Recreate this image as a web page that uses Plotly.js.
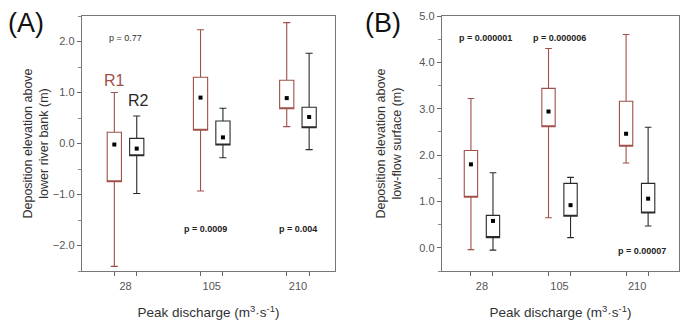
<!DOCTYPE html>
<html>
<head>
<meta charset="utf-8">
<script src="https://cdn.plot.ly/plotly-3.0.1.min.js"></script>
<style>html,body{margin:0;padding:0;background:#fff}#chart{width:683px;height:322px}</style>
</head>
<body>
<div id="chart"></div>
<script>
// ---- Data ----
const categories = ['28', '105', '210'];

// Panel A: deposition elevation above lower river bank (m)
const aR1_upper = [1.00, 2.23, 2.37];
const aR1_q3    = [0.22, 1.30, 1.24];
const aR1_q1    = [-0.75, 0.26, 0.68];
const aR1_lower = [-2.41, -0.93, 0.33];
const aR1_mean  = [-0.02, 0.90, 0.89];

const aR2_upper = [0.54, 0.69, 1.77];
const aR2_q3    = [0.10, 0.44, 0.71];
const aR2_q1    = [-0.24, -0.03, 0.31];
const aR2_lower = [-0.98, -0.28, -0.12];
const aR2_mean  = [-0.10, 0.12, 0.52];

// Panel B: deposition elevation above low-flow surface (m)
const bR1_upper = [3.22, 4.30, 4.60];
const bR1_q3    = [2.10, 3.44, 3.16];
const bR1_q1    = [1.09, 2.61, 2.19];
const bR1_lower = [-0.04, 0.65, 1.83];
const bR1_mean  = [1.80, 2.94, 2.46];

const bR2_upper = [1.62, 1.52, 2.60];
const bR2_q3    = [0.70, 1.39, 1.39];
const bR2_q1    = [0.22, 0.68, 0.75];
const bR2_lower = [-0.05, 0.22, 0.47];
const bR2_mean  = [0.58, 0.92, 1.06];

const pTextsA = ['p = 0.77', 'p = 0.0009', 'p = 0.004'];
const pTextsB = ['p = 0.000001', 'p = 0.000006', 'p = 0.00007'];

// ---- Styling ----
const R1COLOR = '#a0504a';
const R2COLOR = '#2a2a2a';
const FONT = 'Liberation Sans, Arial, sans-serif';

const idx = categories.map((c, i) => i);

function boxTrace(pos, q1, q3, lo, hi, color, width, xa, ya, name) {
  return {
    type: 'box', name: name, x: pos,
    q1: q1, median: q1, q3: q3, lowerfence: lo, upperfence: hi,
    width: width, whiskerwidth: 0.5, boxpoints: false,
    fillcolor: 'white', line: {color: color, width: 1.1},
    xaxis: xa, yaxis: ya, hoverinfo: 'skip', showlegend: false
  };
}
function meanTrace(pos, mean, xa, ya) {
  return {
    type: 'scatter', mode: 'markers', x: pos, y: mean,
    marker: {symbol: 'square', size: 4, color: '#000'},
    xaxis: xa, yaxis: ya, hoverinfo: 'skip', showlegend: false
  };
}

const offA = 0.13, wA = 0.165;
const offB = 0.142, wB = 0.172;
const aR1x = idx.map(i => i - offA), aR2x = idx.map(i => i + offA);
const bR1x = idx.map(i => i - offB), bR2x = idx.map(i => i + offB);

const data = [
  boxTrace(aR1x, aR1_q1, aR1_q3, aR1_lower, aR1_upper, R1COLOR, wA, 'x', 'y', 'R1'),
  boxTrace(aR2x, aR2_q1, aR2_q3, aR2_lower, aR2_upper, R2COLOR, wA, 'x', 'y', 'R2'),
  meanTrace(aR1x, aR1_mean, 'x', 'y'),
  meanTrace(aR2x, aR2_mean, 'x', 'y'),
  boxTrace(bR1x, bR1_q1, bR1_q3, bR1_lower, bR1_upper, R1COLOR, wB, 'x2', 'y2', 'R1'),
  boxTrace(bR2x, bR2_q1, bR2_q3, bR2_lower, bR2_upper, R2COLOR, wB, 'x2', 'y2', 'R2'),
  meanTrace(bR1x, bR1_mean, 'x2', 'y2'),
  meanTrace(bR2x, bR2_mean, 'x2', 'y2')
];

const tickFont = {family: FONT, size: 11, color: '#555'};
const titleFont = {family: FONT, size: 12.5, color: '#333'};

function xAxis(domain, range, boxPos) {
  return {
    domain: domain, range: range, type: 'linear',
    tickmode: 'array', tickvals: idx, ticktext: categories,
    ticks: 'outside', ticklen: 4, tickcolor: 'rgba(0,0,0,0)',
    minor: {tickmode: 'array', tickvals: boxPos, ticks: 'outside', ticklen: 4, tickcolor: '#666', showgrid: false},
    tickfont: tickFont, showgrid: false, zeroline: false,
    showline: true, linecolor: '#777', linewidth: 1.3, mirror: true,
    title: {text: 'Peak discharge (m<sup>3</sup>·s<sup>-1</sup>)', font: {family: FONT, size: 13.5, color: '#333'}, standoff: 17},
    fixedrange: true
  };
}
function yAxis(domain, range, title, anchor, standoff) {
  return {
    domain: domain, range: range, anchor: anchor,
    tick0: 0, dtick: 1, tickformat: '.1f',
    ticks: 'outside', ticklen: 4, tickcolor: '#666',
    minor: {dtick: 0.5, ticks: 'outside', ticklen: 3, tickcolor: '#888', showgrid: false},
    tickfont: tickFont, showgrid: false, zeroline: false,
    showline: true, linecolor: '#777', linewidth: 1.3, mirror: true,
    title: {text: title, font: titleFont, standoff: standoff},
    fixedrange: true
  };
}

const yDom = [51/322, 306/322];
const layout = {
  width: 683, height: 322,
  margin: {l: 0, r: 0, t: 0, b: 0},
  paper_bgcolor: '#fff', plot_bgcolor: '#fff',
  showlegend: false,
  font: {family: FONT},
  xaxis: Object.assign(xAxis([82/683, 335/683], [-0.505, 2.43], aR1x.concat(aR2x)), {anchor: 'y'}),
  yaxis: yAxis(yDom, [-2.5, 2.5], 'Deposition elevation above<br>lower river bank (m)', 'x', 1),
  xaxis2: Object.assign(xAxis([442/683, 679/683], [-0.515, 2.54], bR1x.concat(bR2x)), {anchor: 'y2'}),
  yaxis2: yAxis(yDom, [-0.5, 5.0], 'Deposition elevation above<br>low-flow surface (m)', 'x2', 14),
  annotations: [
    {text: '(A)', xref: 'paper', yref: 'paper', x: 6/683, y: 1 - 23/322, xanchor: 'left', yanchor: 'middle',
     showarrow: false, font: {family: FONT, size: 27, color: '#111'}},
    {text: '(B)', xref: 'paper', yref: 'paper', x: 363/683, y: 1 - 23/322, xanchor: 'left', yanchor: 'middle',
     showarrow: false, font: {family: FONT, size: 27, color: '#111'}},
    {text: 'R1', xref: 'x', yref: 'y', x: aR1x[0], y: 1.23, showarrow: false,
     font: {family: FONT, size: 16, color: R1COLOR}},
    {text: 'R2', xref: 'x', yref: 'y', x: aR2x[0] + 0.02, y: 0.84, showarrow: false,
     font: {family: FONT, size: 16, color: R2COLOR}},
    {text: pTextsA[0], xref: 'x', yref: 'y', x: 0, y: 2.07, showarrow: false,
     font: {family: FONT, size: 9, color: '#333'}},
    {text: '<b>' + pTextsA[1] + '</b>', xref: 'x', yref: 'y', x: 0.93, y: -1.67, showarrow: false,
     font: {family: FONT, size: 9, color: '#222'}},
    {text: '<b>' + pTextsA[2] + '</b>', xref: 'x', yref: 'y', x: 2.0, y: -1.67, showarrow: false,
     font: {family: FONT, size: 9, color: '#222'}},
    {text: '<b>' + pTextsB[0] + '</b>', xref: 'x2', yref: 'y2', x: 0.05, y: 4.52, showarrow: false,
     font: {family: FONT, size: 9, color: '#222'}},
    {text: '<b>' + pTextsB[1] + '</b>', xref: 'x2', yref: 'y2', x: 1.0, y: 4.52, showarrow: false,
     font: {family: FONT, size: 9, color: '#222'}},
    {text: '<b>' + pTextsB[2] + '</b>', xref: 'x2', yref: 'y2', x: 2.06, y: -0.07, showarrow: false,
     font: {family: FONT, size: 9, color: '#222'}}
  ]
};

Plotly.newPlot('chart', data, layout, {staticPlot: true, displayModeBar: false});
</script>
</body>
</html>
